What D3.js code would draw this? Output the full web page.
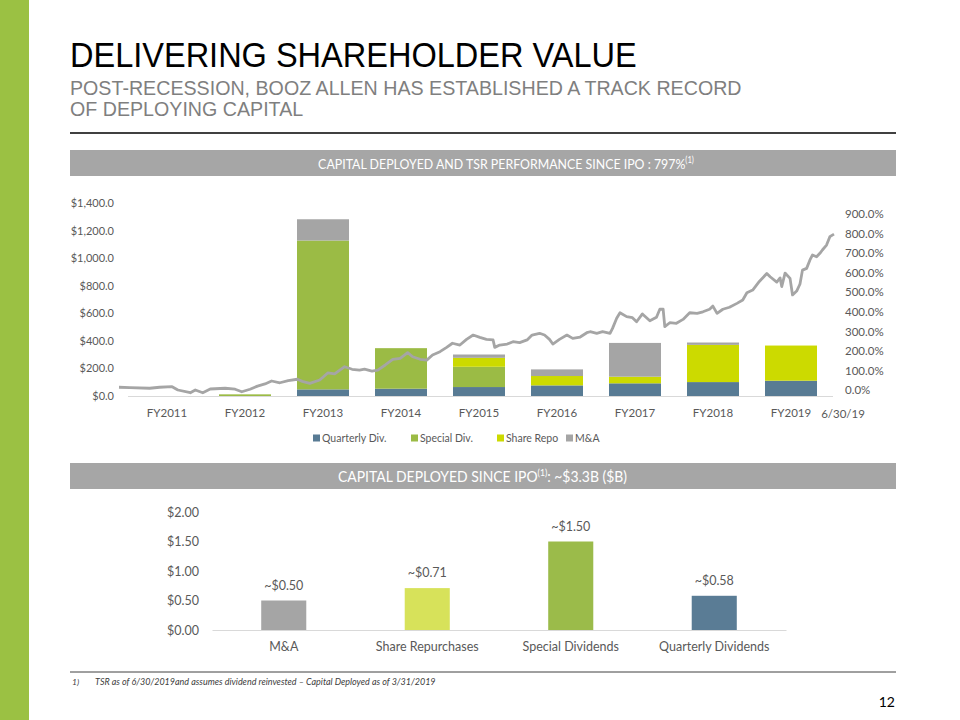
<!DOCTYPE html>
<html><head><meta charset="utf-8">
<script src="https://cdn.jsdelivr.net/npm/d3@7"></script>
<style>body{margin:0;background:#fff}svg{display:block}</style>
</head><body>
<svg id="c" width="960" height="720"></svg>
<script>
// ---------- DATA ----------
const fyCategories = ["FY2011","FY2012","FY2013","FY2014","FY2015","FY2016","FY2017","FY2018","FY2019"];
const quarterlyDiv = [0, 0, 48, 53, 65, 77, 92, 101, 111];
const specialDiv   = [0, 12, 1080, 294, 147, 0, 0, 0, 0];
const shareRepo    = [0, 0, 0, 0, 65, 68, 48, 270, 255];
const mAndA        = [0, 0, 154, 0, 24, 48, 245, 17, 0];
const seriesNames  = ["Quarterly Div.","Special Div.","Share Repo","M&A"];
const leftTicks  = [0,200,400,600,800,1000,1200,1400];
const rightTicks = [0,100,200,300,400,500,600,700,800,900];
const endLabel = "6/30/19";
// TSR since IPO: [decimal year, %]
const tsrTime = [2010.88,2011.01,2011.25,2011.37,2011.52,2011.59,2011.74,2011.80,2011.89,2011.98,2012.16,2012.28,2012.36,2012.46,2012.55,2012.64,2012.72,2012.82,2012.92,2013.03,2013.09,2013.18,2013.30,2013.40,2013.48,2013.60,2013.69,2013.78,2013.84,2013.93,2014.00,2014.09,2014.18,2014.27,2014.36,2014.42,2014.51,2014.59,2014.66,2014.75,2014.83,2014.90,2014.99,2015.07,2015.15,2015.23,2015.31,2015.39,2015.41,2015.47,2015.56,2015.63,2015.71,2015.80,2015.86,2015.95,2016.01,2016.07,2016.11,2016.19,2016.28,2016.35,2016.44,2016.52,2016.56,2016.64,2016.71,2016.80,2016.83,2016.88,2016.92,2017.00,2017.07,2017.12,2017.19,2017.28,2017.36,2017.40,2017.44,2017.46,2017.52,2017.60,2017.68,2017.76,2017.85,2017.92,2018.00,2018.04,2018.09,2018.16,2018.24,2018.33,2018.40,2018.45,2018.52,2018.60,2018.69,2018.73,2018.81,2018.85,2018.87,2018.91,2018.97,2019.00,2019.05,2019.09,2019.12,2019.17,2019.21,2019.24,2019.29,2019.33,2019.36,2019.41,2019.45,2019.48,2019.50];
const tsrPct  = [14,12,9,14,17,0,-14,0,-14,5,9,4,-9,4,20,31,46,37,48,55,44,34,51,88,82,119,106,102,107,97,102,128,157,162,191,170,157,153,179,196,218,239,230,259,281,269,259,256,218,230,235,247,242,256,281,290,281,259,235,259,281,264,271,293,298,290,298,290,315,367,395,375,370,349,389,354,372,413,413,324,344,341,361,395,392,400,413,429,392,413,423,443,460,497,511,555,596,579,552,573,529,598,571,486,506,542,613,622,665,690,681,699,716,741,784,792,797];
// Capital deployed since IPO ($B)
const capCategories = ["M&A","Share Repurchases","Special Dividends","Quarterly Dividends"];
const capValues = [0.50, 0.71, 1.50, 0.58];
const capLabels = ["~$0.50","~$0.71","~$1.50","~$0.58"];
const capTicks = [0, 0.5, 1, 1.5, 2];

// ---------- STYLE ----------
const seriesColors = ["#587B94","#9BBB45","#CCDA00","#A5A5A5"];
const capColors = ["#A5A5A5","#D7E25A","#9BBB4A","#5A7C95"];
const chartFont = "Lato, 'Open Sans', sans-serif";
const titleFont = "'Liberation Sans', Arial, sans-serif";
const axisGray = "#595959";

const svg = d3.select("#c");

function fitWidth(sel, target){
  const fs = parseFloat(sel.attr("font-size"));
  const w = sel.node().getComputedTextLength();
  if (w > 0) sel.attr("font-size", (fs*target/w).toFixed(2));
}
// narrow text: keep height, squeeze horizontally to target width
function narrowText(x, y, size, color, str, target){
  const g = svg.append("g");
  const t = g.append("text").attr("x",0).attr("y",0).attr("font-family",titleFont)
    .attr("font-size",size).attr("fill",color).text(str);
  const w = t.node().getComputedTextLength();
  const sx = target ? target/w : 1;
  g.attr("transform",`translate(${x},${y}) scale(${sx.toFixed(4)},1)`);
  return sx;
}

// left green strip
svg.append("rect").attr("x",0).attr("y",0).attr("width",29).attr("height",720).attr("fill","#9BC143");

// titles
narrowText(70, 66.5, 35, "#000", "DELIVERING SHAREHOLDER VALUE", 567);
const sx = narrowText(70, 95, 19.5, "#7F7F7F", "POST-RECESSION, BOOZ ALLEN HAS ESTABLISHED A TRACK RECORD", 672);
{
  const g = svg.append("g").attr("transform",`translate(70,116) scale(${sx.toFixed(4)},1)`);
  g.append("text").attr("font-family",titleFont).attr("font-size",19.5).attr("fill","#7F7F7F").text("OF DEPLOYING CAPITAL");
}
svg.append("line").attr("x1",70).attr("x2",896).attr("y1",133).attr("y2",133).attr("stroke","#000").attr("stroke-width",1.5);

// header bands (text squeezed horizontally to the reference width)
function band(y, main, after, cx, fsz, target){
  svg.append("rect").attr("x",70).attr("y",y).attr("width",826).attr("height",26).attr("fill","#A6A6A6");
  const g = svg.append("g");
  const t = g.append("text").attr("x",0).attr("y",0).attr("text-anchor","middle")
    .attr("font-family",chartFont).attr("font-size",fsz).attr("fill","#fff");
  t.append("tspan").text(main);
  t.append("tspan").attr("font-size",fsz*0.62).attr("dy",-6).text("(1)");
  t.append("tspan").attr("dy",6).text(after);
  const w = t.node().getComputedTextLength();
  g.attr("transform",`translate(${cx},${y+18.5}) scale(${(target/w).toFixed(4)},1)`);
}
band(150, "CAPITAL DEPLOYED AND TSR PERFORMANCE SINCE IPO : 797%", "", 506, 14, 376);
band(463, "CAPITAL DEPLOYED SINCE IPO", ": ~$3.3B ($B)", 482.5, 16, 289);

// ---------- TOP CHART ----------
const yL = d3.scaleLinear().domain([0,1400]).range([396,203]);
const yR = d3.scaleLinear().domain([0,900]).range([390,214]);
const xB = d3.scaleBand().domain(fyCategories).range([128,830]).paddingInner(1/3).paddingOuter(1/6);
const xT = d3.scaleLinear().domain([tsrTime[0], tsrTime[tsrTime.length-1]]).range([119,834]);

const stackData = fyCategories.map((c,i)=>({cat:c, q:quarterlyDiv[i], s:specialDiv[i], r:shareRepo[i], m:mAndA[i]}));
const stacked = d3.stack().keys(["q","s","r","m"])(stackData);
const topG = svg.append("g");
topG.selectAll("g.ser").data(stacked).join("g").attr("fill",(d,i)=>seriesColors[i])
  .selectAll("rect").data(d=>d).join("rect")
  .attr("x",d=>xB(d.data.cat)).attr("width",xB.bandwidth())
  .attr("y",d=>yL(d[1])).attr("height",d=>Math.max(0,yL(d[0])-yL(d[1])));

// axes
const axL = topG.append("g").attr("transform","translate(114,0)")
  .call(d3.axisLeft(yL).tickValues(leftTicks).tickSize(0).tickPadding(0).tickFormat(d=>"$"+d3.format(",.1f")(d)));
axL.select(".domain").remove();
axL.selectAll("text").attr("font-family",chartFont).attr("font-size",11).attr("fill",axisGray);

const axR = topG.append("g").attr("transform","translate(845,0)")
  .call(d3.axisRight(yR).tickValues(rightTicks).tickSize(0).tickPadding(0).tickFormat(d=>d3.format(".1f")(d)+"%"));
axR.select(".domain").remove();
axR.selectAll("text").attr("font-family",chartFont).attr("font-size",11.5).attr("fill",axisGray);

const axB = topG.append("g").attr("transform","translate(0,396)")
  .call(d3.axisBottom(xB).tickSize(0).tickPadding(13));
axB.select(".domain").attr("stroke","#D9D9D9").attr("d","M128,0.5H833");
axB.selectAll("text").attr("font-family",chartFont).attr("font-size",11.5).attr("fill",axisGray);
topG.append("text").attr("x",xT(tsrTime[tsrTime.length-1])+9).attr("y",418).attr("text-anchor","middle")
  .attr("font-family",chartFont).attr("font-size",11.5).attr("fill",axisGray).text(endLabel);

// TSR line
const line = d3.line().x((d,i)=>xT(tsrTime[i])).y(d=>yR(d)).curve(d3.curveLinear);
topG.append("path").datum(tsrPct).attr("d",line).attr("fill","none").attr("stroke","#A5A5A5")
  .attr("stroke-width",2.8).attr("stroke-linejoin","round");

// legend
const legX = [313, 411, 497, 566];
const leg = svg.append("g");
seriesNames.forEach((n,i)=>{
  leg.append("rect").attr("x",legX[i]).attr("y",434.5).attr("width",7).attr("height",7).attr("fill",seriesColors[i]);
  leg.append("text").attr("x",legX[i]+9).attr("y",442).attr("font-family",chartFont).attr("font-size",10.5)
    .attr("fill",axisGray).text(n);
});

// ---------- BOTTOM CHART ----------
const yB = d3.scaleLinear().domain([0,2]).range([630,512]);
const xC = d3.scaleBand().domain(capCategories).range([212,786]).paddingInner(0.686).paddingOuter(0.343);
const bot = svg.append("g");
bot.selectAll("rect.bar").data(capValues).join("rect")
  .attr("x",(d,i)=>xC(capCategories[i])).attr("width",xC.bandwidth())
  .attr("y",d=>yB(d)).attr("height",d=>yB(0)-yB(d)).attr("fill",(d,i)=>capColors[i]);
bot.selectAll("text.val").data(capValues).join("text")
  .attr("x",(d,i)=>xC(capCategories[i])+xC.bandwidth()/2).attr("y",d=>yB(d)-11)
  .attr("text-anchor","middle").attr("font-family",chartFont).attr("font-size",12.5).attr("fill",axisGray)
  .text((d,i)=>capLabels[i]);
const axCL = bot.append("g").attr("transform","translate(199,0)")
  .call(d3.axisLeft(yB).tickValues(capTicks).tickSize(0).tickPadding(0).tickFormat(d=>"$"+d3.format(".2f")(d)));
axCL.select(".domain").remove();
axCL.selectAll("text").attr("font-family",chartFont).attr("font-size",12.5).attr("fill",axisGray);
const axCB = bot.append("g").attr("transform","translate(0,630)")
  .call(d3.axisBottom(xC).tickSize(0).tickPadding(12));
axCB.select(".domain").attr("stroke","#D9D9D9");
axCB.selectAll("text").attr("font-family",chartFont).attr("font-size",12.5).attr("fill",axisGray);

// footnote
svg.append("line").attr("x1",70).attr("x2",896).attr("y1",672).attr("y2",672).attr("stroke","#404040").attr("stroke-width",1);
svg.append("text").attr("x",72).attr("y",685).attr("font-family",chartFont).attr("font-style","italic")
  .attr("font-size",8.5).attr("fill","#404040").text("1)");
const fn = svg.append("text").attr("x",95).attr("y",685).attr("font-family",chartFont).attr("font-style","italic")
  .attr("font-size",8.5).attr("fill","#404040")
  .text("TSR as of 6/30/2019and assumes dividend reinvested – Capital Deployed as of 3/31/2019");
fitWidth(fn, 341);
svg.append("text").attr("x",895).attr("y",707).attr("text-anchor","end").attr("font-family",chartFont)
  .attr("font-size",14).attr("fill","#000").text("12");
</script>
</body></html>
